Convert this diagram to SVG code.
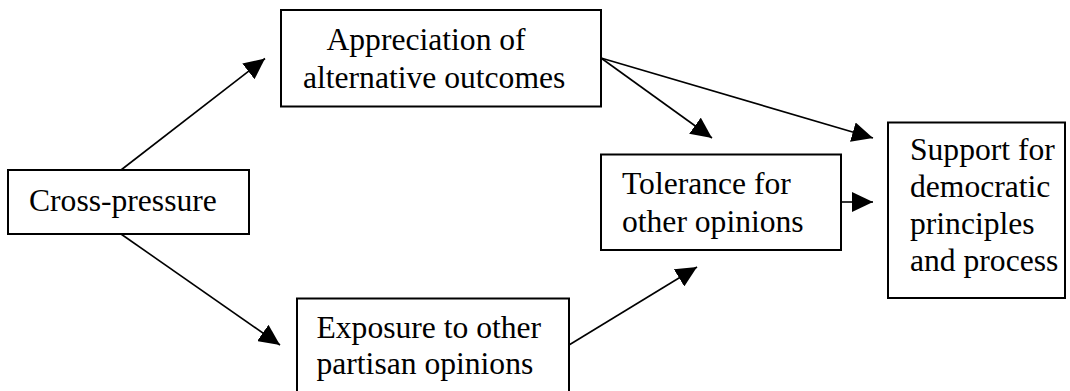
<svg xmlns="http://www.w3.org/2000/svg" width="1070" height="391" viewBox="0 0 1070 391">
<style>
.box{fill:#fff;stroke:#000;stroke-width:2}
.t{font-family:"Liberation Serif","Times New Roman",serif;font-size:31.6px;fill:#000}
.c{fill:none;stroke:#000;stroke-width:1.6}
</style>
<defs>
<marker id="ah" viewBox="0 0 21 20" refX="21" refY="10" markerWidth="21" markerHeight="20" markerUnits="userSpaceOnUse" orient="auto">
<path d="M0,0 L21,10 L0,20 z" fill="#000"/>
</marker>
</defs>
<rect width="1070" height="391" fill="#fff"/>
<g id="connectors">
<line class="c" x1="121" y1="170" x2="265" y2="58.5" marker-end="url(#ah)"/>
<line class="c" x1="121" y1="234" x2="280" y2="345" marker-end="url(#ah)"/>
<line class="c" x1="601" y1="58" x2="712" y2="138" marker-end="url(#ah)"/>
<line class="c" x1="601" y1="58" x2="873" y2="138" marker-end="url(#ah)"/>
<line class="c" x1="841" y1="202" x2="873" y2="202" marker-end="url(#ah)"/>
<line class="c" x1="569" y1="345" x2="697" y2="267" marker-end="url(#ah)"/>
</g>
<g id="cross-pressure">
<rect class="box" x="8" y="170" width="241" height="64"/>
<text class="t" x="29" y="211">Cross-pressure</text>
</g>
<g id="appreciation">
<rect class="box" x="281" y="10" width="320" height="96.5"/>
<text class="t" x="326.5" y="50">Appreciation of</text>
<text class="t" x="303" y="87.5">alternative outcomes</text>
</g>
<g id="exposure">
<rect class="box" x="297" y="298.5" width="272" height="110"/>
<text class="t" x="316.5" y="338">Exposure to other</text>
<text class="t" x="316.5" y="374">partisan opinions</text>
</g>
<g id="tolerance">
<rect class="box" x="601" y="154.5" width="240" height="95.5"/>
<text class="t" x="622" y="194">Tolerance for</text>
<text class="t" x="622" y="231.5">other opinions</text>
</g>
<g id="support">
<rect class="box" x="888" y="122.5" width="177" height="175.5"/>
<text class="t" x="910" y="160">Support for</text>
<text class="t" x="910" y="197">democratic</text>
<text class="t" x="910" y="234">principles</text>
<text class="t" x="910" y="271">and process</text>
</g>
</svg>
